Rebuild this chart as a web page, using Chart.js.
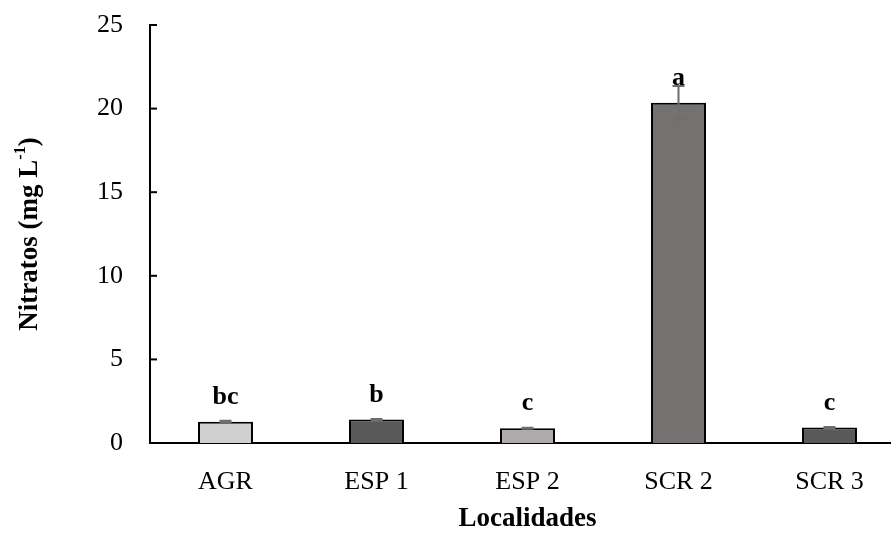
<!DOCTYPE html>
<html>
<head>
<meta charset="utf-8">
<title>Nitratos por localidad</title>
<script src="https://cdn.jsdelivr.net/npm/chart.js@4.4.0/dist/chart.umd.min.js"></script>
<style>
  html, body { margin: 0; padding: 0; background: #fff; overflow: hidden; }
  #wrap { width: 905px; height: 536px; position: relative; }
</style>
</head>
<body>
<div id="wrap"><canvas id="nitratosChart"></canvas></div>
<script>
let localidades = ["AGR", "ESP 1", "ESP 2", "SCR 2", "SCR 3"];
let nitratos = [1.27, 1.40, 0.88, 20.35, 0.92];
let errores = [0.06, 0.04, 0.03, 1.0, 0.03];
let letras = ["bc", "b", "c", "a", "c"];
let coloresBarra = ["#D0CECE", "#595959", "#AEAAAA", "#767171", "#595959"];
let yMin = 0;
let yMax = 25;
let yPaso = 5;

const fuente = "'Liberation Serif', 'Times New Roman', serif";

document.addEventListener("DOMContentLoaded", function () {
  // error bars, inward ticks, letters and the y title with superscript
  const extras = {
    id: "extras",
    afterDatasetsDraw(chart) {
      const c = chart.ctx;
      const yScale = chart.scales.y;
      const meta = chart.getDatasetMeta(0);

      // error bars
      c.save();
      c.strokeStyle = "#6E6E6E";
      c.lineWidth = 2;
      meta.data.forEach((bar, i) => {
        const top = yScale.getPixelForValue(nitratos[i] + errores[i]);
        const bot = yScale.getPixelForValue(nitratos[i] - errores[i]);
        c.beginPath();
        c.moveTo(bar.x, top);
        c.lineTo(bar.x, bot);
        c.moveTo(bar.x - 6, top);
        c.lineTo(bar.x + 6, top);
        c.moveTo(bar.x - 6, bot);
        c.lineTo(bar.x + 6, bot);
        c.stroke();
      });
      c.restore();

      // letters above bars
      c.save();
      c.fillStyle = "#000";
      c.font = "bold 26px " + fuente;
      c.textAlign = "center";
      c.textBaseline = "alphabetic";
      meta.data.forEach((bar, i) => {
        c.fillText(letras[i], bar.x, yScale.getPixelForValue(nitratos[i]) - 18);
      });
      c.restore();

      // inward tick marks on y axis
      c.save();
      c.strokeStyle = "#000";
      c.lineWidth = 2;
      yScale.ticks.forEach((t) => {
        const py = yScale.getPixelForValue(t.value);
        c.beginPath();
        c.moveTo(chart.chartArea.left, py);
        c.lineTo(chart.chartArea.left + 7, py);
        c.stroke();
      });
      c.restore();

      // y title: Nitratos (mg L-1)
      c.save();
      const cy = (chart.chartArea.top + chart.chartArea.bottom) / 2;
      c.translate(30, cy);
      c.rotate(-Math.PI / 2);
      c.fillStyle = "#000";
      c.textBaseline = "middle";
      c.textAlign = "left";
      const fGrande = "bold 27px " + fuente;
      const fPeq = "bold 16px " + fuente;
      c.font = fGrande;
      const w1 = c.measureText("Nitratos (mg L").width;
      const w3 = c.measureText(")").width;
      c.font = fPeq;
      const w2 = c.measureText("-1").width;
      let x = -(w1 + w2 + w3) / 2;
      c.font = fGrande;
      c.fillText("Nitratos (mg L", x, 0);
      x += w1;
      c.font = fPeq;
      c.fillText("-1", x, -9);
      x += w2;
      c.font = fGrande;
      c.fillText(")", x, 0);
      c.restore();
    }
  };

  const ctx = document.getElementById("nitratosChart");
  const chartNitratos = new Chart(ctx, {
    type: "bar",
    data: {
      labels: localidades,
      datasets: [{
        label: "Nitratos",
        data: nitratos,
        backgroundColor: coloresBarra,
        borderColor: "#000",
        borderWidth: 2,
        barPercentage: 0.364,
        categoryPercentage: 1.0
      }]
    },
    options: {
      responsive: true,
      maintainAspectRatio: false,
      animation: false,
      layout: {
        padding: { top: 25, left: 0, right: 0, bottom: 0 }
      },
      plugins: {
        legend: { display: false },
        tooltip: { enabled: false }
      },
      scales: {
        x: {
          grid: { display: false, drawTicks: false },
          border: { display: true, color: "#000", width: 2 },
          ticks: {
            color: "#000",
            padding: 24,
            font: { family: fuente, size: 26 }
          },
          title: {
            display: true,
            text: "Localidades",
            color: "#000",
            padding: { top: 0, bottom: 1 },
            font: { family: fuente, size: 27, weight: "bold" }
          },
          afterFit: function (scale) {
            scale.height = 93;
            scale.paddingLeft = 0;
            scale.paddingRight = 0;
          }
        },
        y: {
          min: yMin,
          max: yMax,
          grid: { display: false, drawTicks: false },
          border: { display: true, color: "#000", width: 2 },
          ticks: {
            stepSize: yPaso,
            color: "#000",
            padding: 27,
            font: { family: fuente, size: 26 }
          },
          afterFit: function (scale) {
            scale.width = 150;
            scale.paddingTop = 0;
            scale.paddingBottom = 0;
          }
        }
      }
    },
    plugins: [extras]
  });
});
</script>
</body>
</html>
